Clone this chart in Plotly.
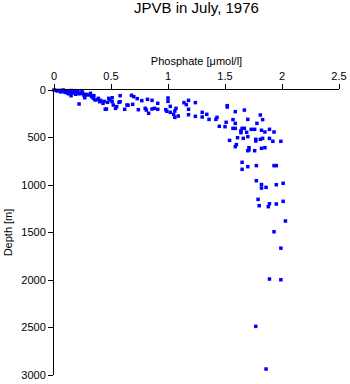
import plotly.graph_objects as go

phosphate = [
    1.86, 1.77, 1.89, 1.99, 1.99, 1.93, 2.03,
    1.79, 1.80, 1.89, 1.88, 1.95, 2.01,
    1.775, 1.82, 1.82, 1.86, 1.95, 2.01,
    1.65, 1.70, 1.775, 1.65, 1.93, 1.95,
    1.70, 1.76,
    1.60, 1.59, 1.71, 1.71, 1.82, 1.85,
    1.54, 1.61, 1.66, 1.70, 1.69, 1.77, 1.77, 1.81, 1.83, 1.89, 1.92, 1.99,
    1.57, 1.59, 1.65, 1.64, 1.64, 1.67, 1.73, 1.76, 1.82, 1.85, 1.89, 1.93,
    1.57, 1.59, 1.70, 1.83, 1.78, 1.81,
    1.52, 1.52, 1.59, 1.67,
    1.45, 1.50, 1.51, 1.42, 1.43, 1.36, 1.34, 1.30, 1.30,
    1.24, 1.18, 1.18, 1.24, 1.16, 1.18, 1.14,
    1.09, 1.06, 1.05, 1.07, 1.06, 1.02, 1.02, 0.99, 0.98, 1.00, 1.00, 0.91, 0.91,
    0.88, 0.86, 0.83, 0.81, 0.80, 0.74, 0.86, 0.82, 0.77, 0.73, 0.70, 0.68, 0.69,
    0.65, 0.62, 0.64,
    0.58, 0.58, 0.57, 0.55, 0.54, 0.52, 0.51, 0.51, 0.49, 0.48, 0.46, 0.45, 0.43,
    0.40, 0.39, 0.36, 0.345, 0.33, 0.32, 0.30, 0.27, 0.26, 0.245, 0.23, 0.22, 0.20,
    0.18, 0.18, 0.16, 0.15, 0.14, 0.12, 0.105, 0.09, 0.07, 0.05, 0.02,
    0.00, 0.03, 0.06, 0.08, 0.10, 0.12, 0.13, 0.15, 0.17, 0.19, 0.21, 0.22, 0.25,
    0.28, 0.35, 0.38, 0.41, 0.44, 0.47,
]
depth = [
    2937, 2488, 1990, 1997, 1665, 1492, 1379,
    1151, 1218, 1197, 1228, 1200, 1172,
    955, 995, 1032, 1025, 997, 982,
    761, 807, 796, 835, 796, 796,
    639, 639,
    575, 596, 607, 631, 614, 607,
    530, 502, 509, 491, 445, 519, 537, 519, 509, 509, 540, 540,
    404, 404, 404, 428, 449, 404, 414, 414, 424, 442, 414, 442,
    312, 351, 309, 312, 351, 263,
    165, 179, 228, 211,
    382, 386, 340, 309, 288, 309, 256, 235, 284,
    277, 260, 203, 133, 154, 109, 133,
    274, 288, 256, 193, 221, 235, 172, 224, 207, 119, 84, 140, 203,
    193, 200, 245, 211, 193, 207, 109, 98, 112, 91, 70, 56, 151,
    161, 203, 158,
    60, 123, 130, 175, 193, 158, 123, 81, 105, 88, 200, 203, 140,
    123, 88, 105, 88, 70, 35, 53, 81, 53, 18, 35, 147, 25,
    7, 32, 25, 60, 18, 32, 7, 18, 11, 4, 4,
    0, 10, 20, 0, 25, 10, 40, 5, 15, 45, 15, 40, 30,
    45, 60, 100, 110, 120, 130,
]

x_ticks = [0, 0.5, 1, 1.5, 2, 2.5]
x_tick_labels = ["0", "0.5", "1", "1.5", "2", "2.5"]
y_ticks = [0, 500, 1000, 1500, 2000, 2500, 3000]
y_tick_labels = ["0", "500", "1000", "1500", "2000", "2500", "3000"]

fig = go.Figure(go.Scatter(
    x=phosphate, y=depth, mode="markers",
    marker=dict(symbol="square", size=3.5, color="#0000ff", line=dict(width=0)),
    cliponaxis=False,
))

font = "Liberation Sans, Arial, sans-serif"
fig.update_layout(
    width=350, height=384,
    margin=dict(l=54, r=11, t=90, b=9, autoexpand=False),
    paper_bgcolor="white", plot_bgcolor="white",
    showlegend=False,
    font=dict(family=font, size=11, color="black"),
    title=dict(text="JPVB in July, 1976", x=0.5, xref="paper", y=1 - 8/384,
               yanchor="middle", font=dict(size=15, family=font)),
    xaxis=dict(side="top", range=[0, 2.5], tickvals=x_ticks, ticktext=x_tick_labels,
               ticks="outside", ticklen=5, tickcolor="black", showline=True,
               linecolor="black", linewidth=1, showgrid=False, zeroline=False,
               automargin=False,
               title=dict(text="Phosphate [μmol/l]", standoff=1, font=dict(size=11))),
    yaxis=dict(range=[3000, 0], tickvals=y_ticks, ticktext=y_tick_labels,
               ticks="outside", ticklen=5, tickcolor="black", showline=True,
               linecolor="black", linewidth=1, showgrid=False, zeroline=False,
               automargin=False,
               title=dict(text="Depth [m]", standoff=6, font=dict(size=11))),
)

fig.write_html("out.html")
